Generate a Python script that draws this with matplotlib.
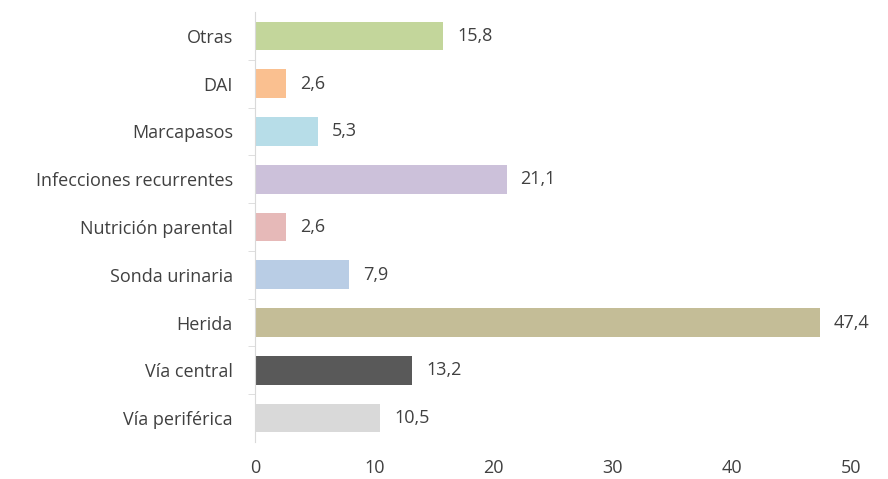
import matplotlib
matplotlib.use("Agg")
import matplotlib.pyplot as plt

# Data (bottom to top)
categories = ["Vía periférica", "Vía central", "Herida", "Sonda urinaria",
              "Nutrición parental", "Infecciones recurrentes", "Marcapasos",
              "DAI", "Otras"]
values = [10.5, 13.2, 47.4, 7.9, 2.6, 21.1, 5.3, 2.6, 15.8]
colors = ["#d9d9d9", "#595959", "#c4bd97", "#b9cde5", "#e6b9b8",
          "#ccc1da", "#b7dde8", "#fac090", "#c3d69b"]
xticks = [0, 10, 20, 30, 40, 50]

plt.rcParams['font.family'] = ['Open Sans', 'DejaVu Sans']
text_color = "#404040"
fs = 13

fig = plt.figure(figsize=(8.88, 4.79), dpi=100)
ax = fig.add_axes([255 / 888, 37 / 479, 596 / 888, 430 / 479])

pos = list(range(len(categories)))
ax.barh(pos, values, height=0.6, color=colors)

for y, v in zip(pos, values):
    ax.annotate(f"{v:.1f}".replace(".", ","), (v, y), xytext=(10, 0),
                textcoords="offset points", va="center", ha="left",
                fontsize=fs, color=text_color)

ax.set_xlim(0, 50)
ax.set_ylim(-0.5, len(categories) - 0.5)
ax.set_xticks(xticks)
ax.set_yticks(pos)
ax.set_yticklabels(categories)
ax.set_yticks([p + 0.5 for p in pos[:-1]], minor=True)

for s in ["top", "right", "bottom"]:
    ax.spines[s].set_visible(False)
ax.spines["left"].set_color("#d9d9d9")

ax.tick_params(axis="y", which="major", length=0, pad=16, labelsize=fs,
               labelcolor=text_color)
ax.tick_params(axis="y", which="minor", length=5, color="#d9d9d9")
ax.tick_params(axis="x", length=0, pad=12, labelsize=fs, labelcolor=text_color)

fig.savefig("out.png", dpi=100)
